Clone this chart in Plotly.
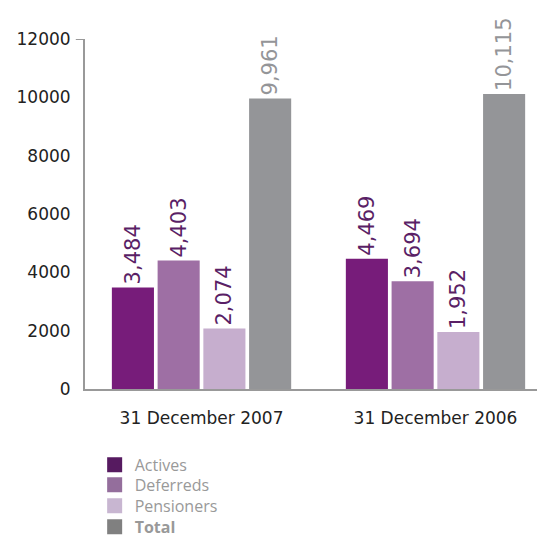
import plotly.graph_objects as go

categories = ["31 December 2007", "31 December 2006"]
actives = [3484, 4469]
deferreds = [4403, 3694]
pensioners = [2074, 1952]
total = [9961, 10115]
series_names = ["Actives", "Deferreds", "Pensioners", "Total"]
y_ticks = [0, 2000, 4000, 6000, 8000, 10000, 12000]

bar_colors = ["#771c7a", "#9e6fa4", "#c6aece", "#949598"]
legend_colors = ["#561a60", "#946e9c", "#c8b6d1", "#808080"]
label_colors = ["#5a1f66", "#5a1f66", "#5a1f66", "#949598"]
axis_font = "DejaVu Sans, sans-serif"
legend_font = "Open Sans, sans-serif"
legend_rows_y = [-0.217, -0.274, -0.334, -0.394]

fig = go.Figure()
for name, vals, bc, lc in zip(series_names, [actives, deferreds, pensioners, total], bar_colors, label_colors):
    fig.add_trace(go.Bar(
        x=categories, y=vals, name=name, marker=dict(color=bc, line=dict(width=0)),
        text=[f"{v:,}" for v in vals], textposition="outside", textangle=-90,
        constraintext="none",
        textfont=dict(color=lc, size=21, family=axis_font),
        cliponaxis=False, showlegend=False,
    ))

legend_layouts = {}
for i, (name, c, ly) in enumerate(zip(series_names, legend_colors, legend_rows_y)):
    label = f"<b>{name}</b>" if name == "Total" else name
    lg = "legend" if i == 0 else f"legend{i + 1}"
    fig.add_trace(go.Scatter(x=[None], y=[None], name=label, mode="markers",
                             marker=dict(color=c, symbol="square", size=15),
                             showlegend=True, legend=lg))
    legend_layouts[lg] = dict(x=0.021, y=ly, xanchor="left", yanchor="middle",
                              font=dict(size=16, color="#999999", family=legend_font),
                              bgcolor="rgba(0,0,0,0)", itemwidth=30)

fig.update_layout(
    width=545, height=537,
    margin=dict(l=77, r=8, t=31, b=156, autoexpand=False),
    paper_bgcolor="white", plot_bgcolor="white",
    barmode="group", bargap=0.218, bargroupgap=0.08,
    font=dict(family=axis_font, size=17, color="#222222"),
    showlegend=True,
    xaxis=dict(range=[-0.498, 1.468], showline=True, linecolor="#999999", linewidth=2,
               showgrid=False, ticks="", ticklabelstandoff=13,
               tickfont=dict(size=17, color="#222222", family=axis_font)),
    yaxis=dict(range=[0, 12000], tickvals=y_ticks, ticktext=[str(t) for t in y_ticks],
               showline=True, linecolor="#999999", linewidth=2, showgrid=False, zeroline=False,
               ticks="", ticklabelstandoff=9,
               tickfont=dict(size=17, color="#222222", family=axis_font)),
    shapes=[dict(type="line", xref="paper", yref="y", x0=-0.02, x1=0, y0=12000, y1=12000,
                 line=dict(color="#999999", width=2))],
)
fig.update_layout(**legend_layouts)

fig.write_html("out.html")
